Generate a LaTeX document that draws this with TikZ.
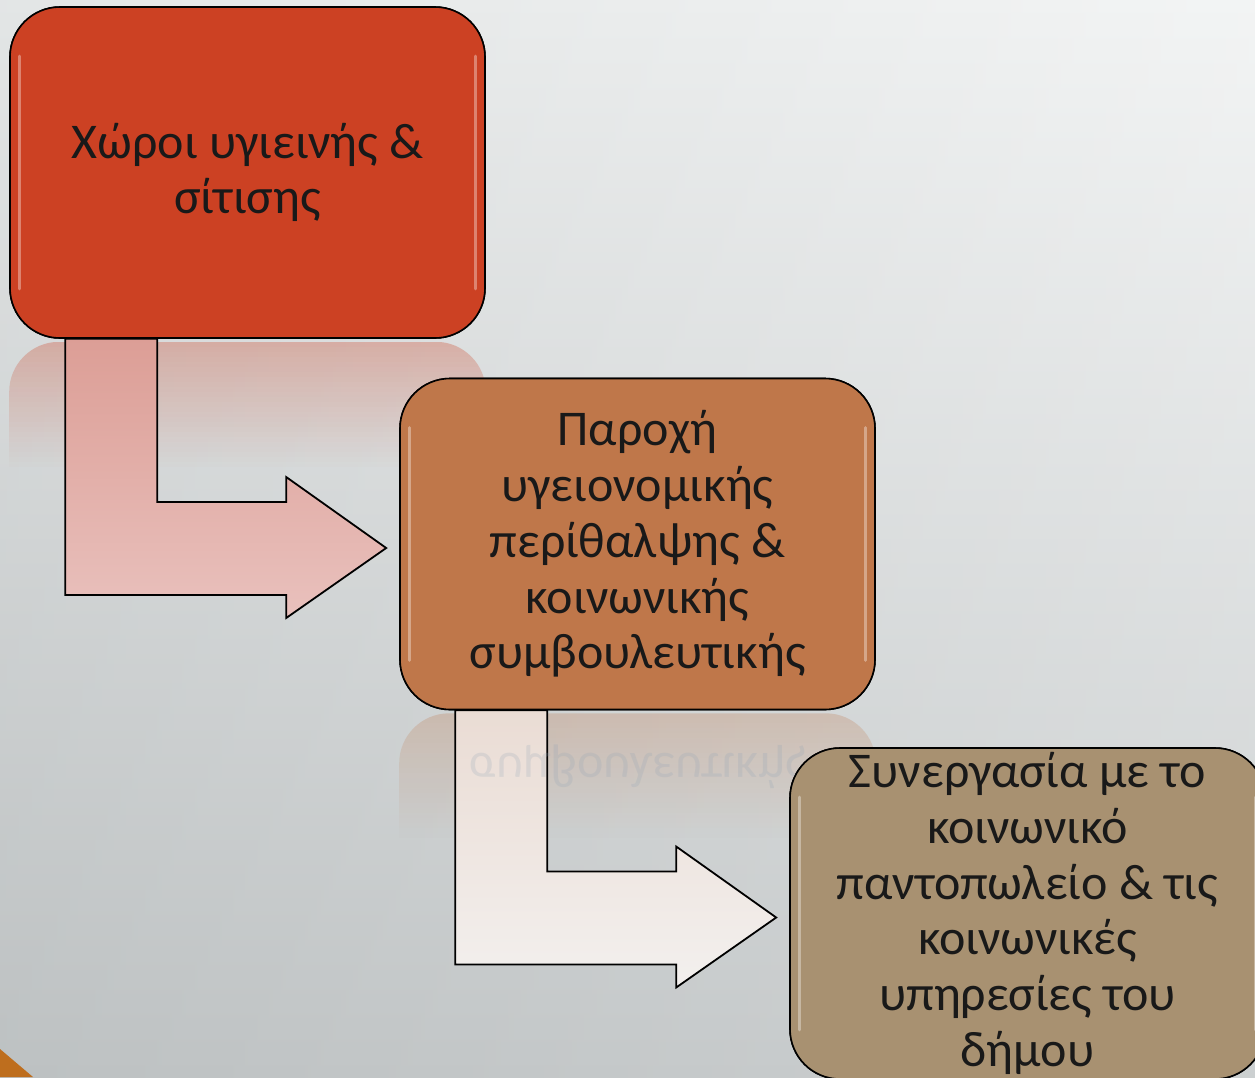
\documentclass[tikz,border=0pt]{standalone}
\usepackage{fontspec}
\setmainfont{Carlito}
\usetikzlibrary{calc}
\definecolor{bgtop}{RGB}{241,243,243}
\definecolor{bgbot}{RGB}{196,200,201}
\definecolor{bgleft}{RGB}{150,155,156}
\definecolor{boxA}{RGB}{204,65,35}
\definecolor{boxB}{RGB}{191,119,74}
\definecolor{boxC}{RGB}{168,145,113}
\definecolor{arrAtop}{RGB}{220,158,150}
\definecolor{arrAbot}{RGB}{233,193,189}
\definecolor{arrBtop}{RGB}{234,220,212}
\definecolor{arrBbot}{RGB}{243,240,238}
\definecolor{cornerc}{RGB}{190,110,30}
\definecolor{mirrortext}{RGB}{140,160,180}
\tikzset{
  stepbox/.style={draw=black, line width=1.6pt, rounded corners=50pt,
    minimum width=475pt, minimum height=331pt, inner sep=0pt,
    align=center, font=\fontsize{50}{55.75}\selectfont, text=black!90},
  bentarrow/.style={draw=black, line width=1.8pt, line join=miter},
  gloss/.style={draw=white, line width=3pt, opacity=0.35, line cap=round}
}
\begin{document}
\begin{tikzpicture}[x=1pt,y=-1pt]
\useasboundingbox (0,0) rectangle (1255,1077);
\clip (0,0) rectangle (1255,1077);
% background
\shade[top color=bgtop, bottom color=bgbot] (0,0) rectangle (1255,1077);
\shade[left color=bgleft, right color=white, opacity=0.15] (0,0) rectangle (1255,1077);
\fill[cornerc] (0,1049) -- (33,1077) -- (0,1077) -- cycle;

% boxes (nodes)
\node[stepbox, fill=boxA] (b1) at (247.5,172.5) {Χώροι υγιεινής \&\\σίτισης};
\node[stepbox, fill=boxB] (b2) at (637.5,544) {Παροχή\\υγειονομικής\\περίθαλψης \&\\κοινωνικής\\συμβουλευτικής};
\node[stepbox, fill=boxC] (b3) at (1027.5,913.5) {Συνεργασία με το\\κοινωνικό\\παντοπωλείο \& τις\\κοινωνικές\\υπηρεσίες του\\δήμου};

% reflections (fading strips)
\begin{scope}
  \clip[rounded corners=50pt] ($(b1.south west)+(0,3)$) rectangle ($(b1.south east)+(0,200)$);
  \foreach \i in {0,...,24}{
    \fill[boxA, opacity={0.30*(1-\i/25)}] ($(b1.south west)+(0,3+5*\i)$) rectangle ($(b1.south east)+(0,8+5*\i)$);
  }
\end{scope}
\begin{scope}
  \clip[rounded corners=50pt] ($(b2.south west)+(0,3)$) rectangle ($(b2.south east)+(0,200)$);
  \foreach \i in {0,...,24}{
    \fill[boxB, opacity={0.26*(1-\i/25)}] ($(b2.south west)+(0,3+5*\i)$) rectangle ($(b2.south east)+(0,8+5*\i)$);
  }
\end{scope}

% bent arrows
\coordinate (a1s) at ($(b1.south west)+(56,0)$);
\coordinate (a1t) at ($(b2.west)+(-13,4)$);
\coordinate (a2s) at ($(b2.south west)+(56,0)$);
\coordinate (a2t) at ($(b3.west)+(-13,4)$);
\shade[bentarrow, top color=arrAtop, bottom color=arrAbot]
  (a1s) -- ++(92,0) |- ($(a1t)+(-100,-46)$) -- ++(0,-25) -- (a1t)
  -- ++(-100,70) -- ++(0,-23) -| (a1s) -- cycle;
\shade[bentarrow, top color=arrBtop, bottom color=arrBbot]
  (a2s) -- ++(92,0) |- ($(a2t)+(-100,-46)$) -- ++(0,-25) -- (a2t)
  -- ++(-100,70) -- ++(0,-23) -| (a2s) -- cycle;

% mirrored reflection of the last line of box 2
\node[yscale=-1, opacity=0.2, text=mirrortext, font=\fontsize{50}{55.75}\selectfont] (r2) at ($(b2.south)+(0,56)$) {συμβουλευτικής};

% redraw boxes on top of arrows
\node[stepbox, fill=boxA] at (b1) {Χώροι υγιεινής \&\\σίτισης};
\node[stepbox, fill=boxB] at (b2) {Παροχή\\υγειονομικής\\περίθαλψης \&\\κοινωνικής\\συμβουλευτικής};
\node[stepbox, fill=boxC] at (b3) {Συνεργασία με το\\κοινωνικό\\παντοπωλείο \& τις\\κοινωνικές\\υπηρεσίες του\\δήμου};

% gloss highlights
\foreach \b in {b1,b2,b3}{
  \draw[gloss] ($(\b.north west)+(10,50)$) -- ($(\b.south west)+(10,-50)$);
  \draw[gloss] ($(\b.north east)+(-10,50)$) -- ($(\b.south east)+(-10,-50)$);
}
\end{tikzpicture}
\end{document}
